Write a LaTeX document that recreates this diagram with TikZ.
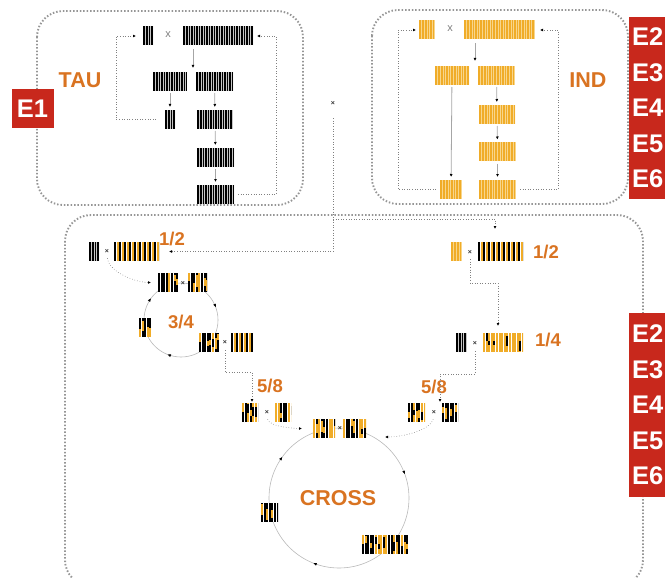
\documentclass[tikz,border=0pt]{standalone}
\usepackage{fontspec}
\setmainfont{Liberation Sans}
\usetikzlibrary{arrows.meta,positioning,decorations.markings}
\definecolor{barorange}{RGB}{240,172,40}
\definecolor{barlight}{RGB}{248,214,140}
\definecolor{labelorange}{RGB}{217,115,33}
\definecolor{ered}{RGB}{200,40,28}
\definecolor{zonegray}{RGB}{150,150,150}
\tikzset{
  zone/.style={draw=zonegray, line width=1.9pt, dash pattern=on 1.5pt off 1.9pt,
               rounded corners=26pt},
  codebox/.style={minimum height=19pt, inner sep=0pt, outer sep=0pt},
  darkcode/.style={codebox, minimum width=#1, fill=black, path picture={
      \foreach \k in {1,...,30}
        \draw[gray!45, line width=0.5pt]
          ([xshift=\k*2.5pt]path picture bounding box.south west) --
          ([xshift=\k*2.5pt]path picture bounding box.north west);}},
  ambercode/.style={codebox, minimum width=#1, fill=barorange, path picture={
      \foreach \k in {1,...,30}
        \draw[barlight, line width=0.6pt]
          ([xshift=\k*2.6pt]path picture bounding box.south west) --
          ([xshift=\k*2.6pt]path picture bounding box.north west);}},
  stripecode/.style={codebox, minimum width=#1, fill=white, path picture={
      \foreach \k in {0,...,12}{
        \fill[black] ([xshift=\k*5pt]path picture bounding box.south west)
          rectangle ([xshift=\k*5pt+2pt]path picture bounding box.north west);
        \fill[barorange] ([xshift=\k*5pt+2.5pt]path picture bounding box.south west)
          rectangle ([xshift=\k*5pt+4.5pt]path picture bounding box.north west);}}},
  mixcode/.style n args={4}{codebox, minimum width=#1, fill=white, path picture={
      \pgfmathsetseed{#2}
      \foreach \k in {0,...,22}{
        \pgfmathsetmacro{\ru}{rnd}
        \pgfmathsetmacro{\rv}{rnd}
        \pgfmathsetmacro{\rlo}{1+11*rnd}
        \pgfmathsetmacro{\rhi}{min(19,\rlo+4+8*rnd)}
        \ifdim\ru pt<#3pt \def\ca{black}\def\cb{barorange}\else\def\ca{barorange}\def\cb{black}\fi
        \fill[\ca] ([xshift=\k*2.6pt]path picture bounding box.south west)
          rectangle ([xshift=\k*2.6pt+2pt]path picture bounding box.north west);
        \ifdim\rv pt<#4pt
          \fill[\cb] ([xshift=\k*2.6pt,yshift=\rlo pt]path picture bounding box.south west)
            rectangle ([xshift=\k*2.6pt+2pt,yshift=\rhi pt]path picture bounding box.south west);
        \fi}}},
  xsign/.style={text=gray, inner sep=1pt, font=\fontsize{11}{11}\selectfont},
  msign/.style={text=black!80, inner sep=1pt, font=\bfseries\fontsize{7}{7}\selectfont},
  bigtext/.style={text=labelorange, inner sep=0pt, font=\bfseries\fontsize{21.5}{22}\selectfont},
  fractext/.style={text=labelorange, inner sep=0pt, font=\bfseries\fontsize{18.5}{19}\selectfont},
  ebox/.style={fill=ered, text=white, inner sep=0pt, font=\bfseries\fontsize{25.5}{35.5}\selectfont},
  flow/.style={draw=gray!70, line width=0.8pt, shorten <=2pt, shorten >=3pt,
               -{Latex[length=3pt,width=3pt,color=black]}},
  dotarrow/.style={draw=gray, dotted, line width=0.6pt,
                   -{Latex[length=3pt,width=3pt,color=black]}},
  ring/.style={draw=gray!55, line width=0.6pt, postaction={decorate},
               decoration={markings,
                 mark=at position 0.31 with {\arrow{Latex[length=3.5pt,width=3pt,color=black]}},
                 mark=at position 0.60 with {\arrow{Latex[length=3.5pt,width=3pt,color=black]}},
                 mark=at position 0.945 with {\arrow{Latex[length=3.5pt,width=3pt,color=black]}}}}
}

\begin{document}
\begin{tikzpicture}[x=1pt, y=-1pt]
  \useasboundingbox (0,0) rectangle (665,578);
  % zones
  \draw[zone] (37,11) rectangle (303,205);
  \draw[zone] (372,10) rectangle (628,204);
  \draw[zone] (65,215) rectangle (643,586);

  % tau population
  \node[bigtext] (tau) at (80,80) {TAU};
  \node[darkcode=10] (t0) at (148,36) {};
  \node[xsign] (tx) at (168,35) {x};
  \node[darkcode=70] (t1) at (218,36) {};
  \node[darkcode=34] (t2) at (170,81.5) {};
  \node[darkcode=37] (t3) at (214.5,81.5) {};
  \node[darkcode=10] (t4) at (170,119.5) {};
  \node[darkcode=36] (t5) at (215,119.5) {};
  \node[darkcode=37] (t6) at (215.5,157.5) {};
  \node[darkcode=37] (t7) at (215.5,194.5) {};
  \coordinate (tfork) at (193,68);
  \coordinate (tleft) at (116,0);
  \coordinate (tright) at (276,0);
  \draw[flow, shorten <=4pt, shorten >=0pt] (t1.south -| tfork) -- (tfork);
  \draw[flow] (t2) -- (t4);
  \draw[flow] (t3) -- (t5);
  \draw[flow] (t5) -- (t6);
  \draw[flow] (t6) -- (t7);
  \draw[dotarrow, shorten <=9pt, shorten >=7pt] (t4.west) -- (t4.west -| tleft) |- (t0.west);
  \draw[dotarrow, shorten <=4pt, shorten >=4pt] (t7.east) -- (t7.east -| tright) |- (t1.east);

  % ind population
  \node[bigtext] (ind) at (588,80) {IND};
  \node[ambercode=16] (i0) at (427,30) {};
  \node[xsign] (ix) at (450,29) {x};
  \node[ambercode=71] (i1) at (499.5,30) {};
  \node[ambercode=34] (i2) at (452,75.5) {};
  \node[ambercode=37] (i3) at (496.5,75.5) {};
  \node[ambercode=36] (i4) at (497,114.5) {};
  \node[ambercode=37] (i5) at (497.5,152) {};
  \node[ambercode=22] (i6) at (451,189.5) {};
  \node[ambercode=37] (i7) at (497.5,189.5) {};
  \coordinate (ifork) at (475,61);
  \coordinate (ileft) at (398,0);
  \coordinate (iright) at (558,0);
  \draw[flow, shorten <=4pt, shorten >=0pt] (i1.south -| ifork) -- (ifork);
  \draw[flow] (i2) -- (i6);
  \draw[flow] (i3) -- (i4);
  \draw[flow] (i4) -- (i5);
  \draw[flow] (i5) -- (i7);
  \draw[dotarrow, shorten <=4pt, shorten >=3pt] (i6.west) -- (i6.west -| ileft) |- (i0.west);
  \draw[dotarrow, shorten <=4pt, shorten >=5pt] (i7.east) -- (i7.east -| iright) |- (i1.east);

  % crossing start
  \node[msign] (top) at (333,103) {×};
  \coordinate (split) at (333,219);
  \coordinate (rdrop) at (495,229);

  % left branch
  \coordinate (c34) at (181,320);
  \draw[ring] (c34) circle[radius=37];
  \node[darkcode=10] (l0) at (94,251.5) {};
  \node[msign] (lx) at (107,251) {×};
  \node[stripecode=45] (l1) at (136.5,251.5) {};
  \node[fractext] (lhalf) at (172,239) {1/2};
  \node[mixcode={20}{11}{0.8}{0.5}] (a0) at (168,282.5) {};
  \node[msign] (ax) at (183,283) {×};
  \node[mixcode={19}{23}{0.7}{0.6}] (a1) at (197.5,282.5) {};
  \node[mixcode={12}{37}{0.7}{0.6}] (a2) at (145,327.5) {};
  \node[mixcode={20}{41}{0.8}{0.6}] (a3) at (209,342.5) {};
  \node[msign] (ay) at (225,342) {×};
  \node[stripecode=22] (a4) at (242,342.5) {};
  \node[fractext] (quarter) at (181,322) {3/4};
  \node[fractext] (leight) at (270,386) {5/8};

  % right branch
  \node[ambercode=11] (r0) at (456.5,251.5) {};
  \node[msign] (rx) at (470,252) {×};
  \node[stripecode=45] (r1) at (500.5,251.5) {};
  \node[fractext] (rhalf) at (546,252) {1/2};
  \node[darkcode=11] (r2) at (461.5,342.5) {};
  \node[msign] (ry) at (475,343) {×};
  \node[mixcode={40}{53}{0.0}{0.45}] (r3) at (503,342.5) {};
  \node[fractext] (rquart) at (548,340) {1/4};
  \node[fractext] (reight) at (434,387) {5/8};

  % cross
  \coordinate (cc) at (339,498);
  \draw[ring] (cc) circle[radius=70];
  \node[mixcode={16}{61}{0.7}{0.6}] (c0) at (250,412.5) {};
  \node[msign] (cx0) at (267,412) {×};
  \node[mixcode={16}{67}{0.6}{0.6}] (c1) at (283,412.5) {};
  \node[mixcode={17}{71}{0.7}{0.6}] (c2) at (416.5,412.5) {};
  \node[msign] (cx1) at (434,412) {×};
  \node[mixcode={16}{79}{0.6}{0.6}] (c3) at (450,412.5) {};
  \node[mixcode={22}{83}{0.7}{0.6}] (m0) at (324,428.5) {};
  \node[msign] (mx) at (340,428) {×};
  \node[mixcode={23}{89}{0.6}{0.6}] (m1) at (354.5,428.5) {};
  \node[mixcode={17}{97}{0.8}{0.6}] (m2) at (269.5,512.5) {};
  \node[mixcode={46}{101}{0.55}{0.4}] (m3) at (385,544.5) {};
  \node[bigtext] (cross) at (338,498) {CROSS};
  \coordinate (mend) at (385,437);

  % connectors
  \draw[dotarrow, shorten <=12pt, shorten >=10pt] (top) |- (l1.east);
  \draw[dotarrow] (split) -| (rdrop);
  \draw[dotarrow, shorten <=4pt, shorten >=7pt] (lx.south) .. controls +(2,18) and +(-22,0) .. (a0.west);
  \draw[dotarrow, shorten <=5pt, shorten >=1pt] (ay.south) -- ++(0,27) -| ([xshift=2pt]c0.north);
  \draw[dotarrow, shorten <=4pt, shorten >=7pt] (rx.south) -- ++(0,28) -| ([xshift=-5pt]r3.north);
  \draw[dotarrow, shorten <=5pt, shorten >=1pt] (ry.south) -- ++(0,28) -| ([xshift=-2pt]c3.north west);
  \draw[dotarrow, shorten <=4pt, shorten >=11pt] (cx0.south) .. controls +(2,12) and +(-16,0) .. (m0.west);
  \draw[dotarrow, shorten <=4pt] (cx1.south) .. controls +(-3,14) and +(20,0) .. (mend);

  % experiment tags
  \node[ebox, text width=36pt, inner xsep=3pt, minimum height=39pt, align=center] (e1)
    at (32.5,108.5) {E1};
  \node[ebox, anchor=north west, text width=36pt, inner xsep=3pt, minimum height=182pt,
        align=left] (etop) at (629,17) {E2\\E3\\E4\\E5\\E6};
  \node[ebox, anchor=north west, text width=36pt, inner xsep=3pt, minimum height=184pt,
        align=left] (ebot) at (629,313) {E2\\E3\\E4\\E5\\E6};
\end{tikzpicture}
\end{document}
